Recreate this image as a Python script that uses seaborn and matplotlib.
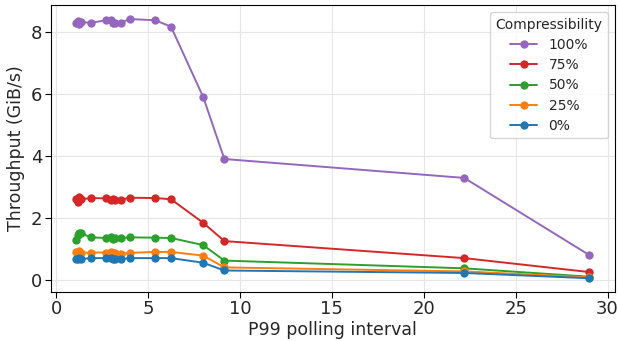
import numpy as np
import pandas as pd
import matplotlib
matplotlib.use("Agg")
import matplotlib.pyplot as plt
import seaborn as sns

# polling interval (P99) shared by all runs
interval = [1.1, 1.2, 1.25, 1.35, 1.9, 2.7, 3.0, 3.1, 3.2, 3.5, 4.0, 5.4, 6.25, 8.0, 9.15, 22.2, 29.0]

tput_100 = [8.28, 8.35, 8.25, 8.32, 8.3, 8.38, 8.4, 8.28, 8.3, 8.3, 8.42, 8.38, 8.17, 5.9, 3.9, 3.29, 0.8]
tput_75 = [2.62, 2.5, 2.66, 2.6, 2.64, 2.63, 2.58, 2.62, 2.58, 2.58, 2.65, 2.64, 2.6, 1.84, 1.25, 0.7, 0.25]
tput_50 = [1.3, 1.45, 1.52, 1.5, 1.37, 1.35, 1.37, 1.33, 1.35, 1.35, 1.37, 1.36, 1.35, 1.12, 0.62, 0.37, 0.1]
tput_25 = [0.9, 0.86, 0.92, 0.87, 0.88, 0.88, 0.9, 0.86, 0.87, 0.83, 0.87, 0.9, 0.9, 0.78, 0.4, 0.27, 0.08]
tput_0 = [0.68, 0.66, 0.7, 0.67, 0.7, 0.7, 0.7, 0.68, 0.68, 0.67, 0.7, 0.7, 0.7, 0.55, 0.3, 0.22, 0.05]

labels = ["100%", "75%", "50%", "25%", "0%"]
series = [tput_100, tput_75, tput_50, tput_25, tput_0]
colors = ["tab:purple", "tab:red", "tab:green", "tab:orange", "tab:blue"]

df = pd.concat([
    pd.DataFrame({"interval": interval, "tput": vals, "Compressibility": lab})
    for lab, vals in zip(labels, series)
])

sns.set_style("whitegrid", {"axes.edgecolor": "black", "grid.color": "#e6e6e6"})
plt.rcParams["font.family"] = ["DejaVu Sans"]

fig, ax = plt.subplots(figsize=(6.18, 3.41), dpi=100)
sns.lineplot(data=df, x="interval", y="tput", hue="Compressibility",
             hue_order=labels, palette=dict(zip(labels, colors)),
             marker="o", markersize=6, markeredgewidth=0, linewidth=1.4,
             sort=True, estimator=None, ax=ax)

ax.set_xlim(-0.3, 30.4)
ax.set_ylim(-0.38, 8.87)
ax.set_xticks([0, 5, 10, 15, 20, 25, 30])
ax.set_yticks([0, 2, 4, 6, 8])
ax.tick_params(labelsize=13, length=4, pad=2, color="black", bottom=True, left=True)
ax.set_xlabel("P99 polling interval", fontsize=12.5, labelpad=2)
ax.set_ylabel("Throughput (GiB/s)", fontsize=12.5, labelpad=4)
leg = ax.legend(title="Compressibility", fontsize=10, title_fontsize=10,
                loc="upper right", labelspacing=0.45)

fig.subplots_adjust(left=0.082, right=0.995, top=0.985, bottom=0.145)
fig.savefig("out.png")
